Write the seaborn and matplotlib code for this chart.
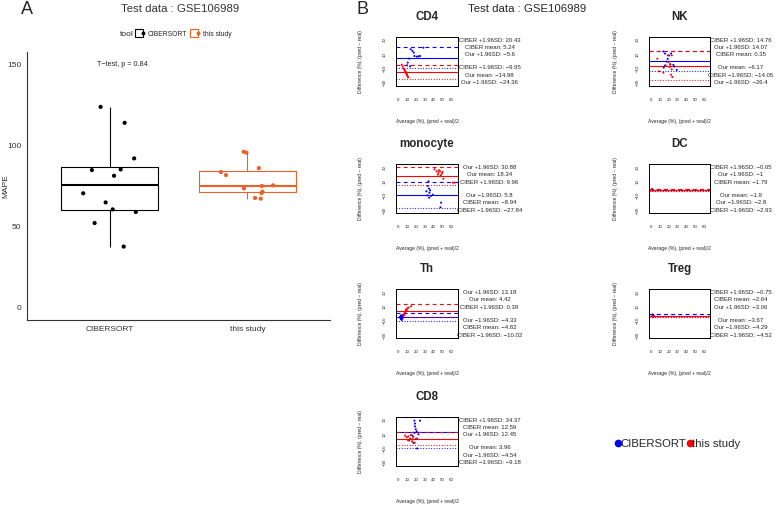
import matplotlib
matplotlib.use("Agg")
import matplotlib.pyplot as plt
from matplotlib.lines import Line2D
from matplotlib.legend_handler import HandlerTuple
import numpy as np
import pandas as pd
import seaborn as sns

# ---- panel A : MAPE per tool ----
tools = ["CIBERSORT", "this study"]
mape_cibersort = [123.7, 113.9, 92.0, 84.8, 85.2, 81.3, 70.5, 64.9, 60.6, 59.0, 52.2, 37.7]
jitter_cibersort = [-0.066, 0.109, 0.178, -0.129, 0.080, 0.032, -0.192, -0.029, 0.022, 0.190, -0.109, 0.102]
mape_study = [96.1, 95.5, 86.0, 83.6, 81.7, 75.4, 75.0, 73.5, 71.5, 70.7, 67.6, 67.2]
jitter_study = [-0.027, -0.007, 0.083, -0.192, -0.156, 0.187, 0.105, -0.025, 0.110, 0.102, 0.056, 0.097]
ttest_label = "T\u2212test, p = 0.84"
title = "Test data : GSE106989"

# ---- panel B : Bland-Altman per cell type ----
cell_types = ["CD4", "NK", "monocyte", "DC", "Th", "Treg", "CD8"]

ciber_avg = {
    "CD4": [14.3, 16.2, 17.7, 12.4, 10.9, 10.1, 13.5, 18.4, 21.0, 22.9, 24.7, 28.5],
    "NK": [13.6, 15.5, 20.1, 22.4, 18.6, 17.5, 15.5, 14.0, 25.1, 26.2, 29.0, 21.3],
    "monocyte": [34.2, 33.4, 34.9, 31.9, 35.3, 37.1, 39.0, 33.1, 34.9, 48.4, 47.7, 36.0],
    "DC": [0.6, 0.8, 0.9, 1.2, 0.8, 1.1, 1.0, 0.5, 1.3, 0.9, 1.0, 0.9],
    "Th": [3.0, 4.2, 4.9, 3.4, 2.3, 5.3, 6.0, 4.2, 2.7, 4.5, 3.8, 5.6],
    "Treg": [1.0, 1.4, 1.6, 1.8, 1.9, 2.0, 2.2, 2.3, 1.7, 1.5, 2.4, 2.0],
    "CD8": [18.4, 24.7, 19.1, 19.1, 19.9, 21.0, 18.4, 22.9, 16.2, 19.9, 17.3, 21.4],
}
ciber_diff = {
    "CD4": [17.0, 14.6, 12.2, 3.8, -1.8, -5.6, -7.0, 7.5, 6.6, 7.0, 7.5, 19.2],
    "NK": [13.8, 11.0, 8.2, 11.0, 3.5, -0.3, -5.9, -8.7, -4.9, -7.3, -11.9, -4.0],
    "monocyte": [10.3, 3.7, 0.0, -3.7, -5.7, -10.3, -8.5, -9.4, -12.7, -19.7, -26.2, -2.4],
    "DC": [-1.2, -1.5, -1.8, -2.4, -1.6, -2.1, -1.9, -1.0, -2.6, -1.7, -2.0, -1.7],
    "Th": [-3.1, -5.5, -6.9, -7.8, -4.5, -3.1, -1.7, -8.8, -6.5, -4.1, -2.2, -5.0],
    "Treg": [-1.2, -1.8, -2.2, -2.5, -2.8, -3.0, -3.3, -3.5, -2.6, -2.0, -3.8, -3.0],
    "CD8": [29.0, 29.0, 25.0, 21.0, 17.0, 14.0, 12.0, 10.0, 8.0, 3.0, -2.0, -10.0],
}
our_avg = {
    "CD4": [4.2, 5.3, 6.4, 7.2, 7.9, 8.7, 9.4, 10.1, 10.9, 8.2, 9.8, 11.3],
    "NK": [6.7, 8.6, 13.6, 16.3, 18.6, 23.2, 21.6, 23.2, 22.4, 23.9, 19.3, 20.9],
    "monocyte": [40.9, 43.5, 45.4, 47.3, 49.2, 48.0, 49.9, 44.7, 51.0, 61.5, 63.4, 46.1],
    "DC": [0.7, 0.8, 1.0, 1.3, 0.9, 1.1, 1.0, 0.8, 1.2, 0.9, 1.1, 0.9],
    "Th": [6.0, 7.2, 7.9, 8.7, 9.8, 9.0, 10.5, 11.7, 14.6, 7.2, 8.2, 6.4],
    "Treg": [1.7, 1.8, 1.9, 2.0, 1.8, 2.0, 1.7, 1.9, 1.9, 2.1, 1.8, 1.8],
    "CD8": [7.9, 9.8, 11.7, 13.5, 14.6, 16.2, 17.3, 12.4, 10.9, 21.4, 18.8, 15.7],
}
our_diff = {
    "CD4": [-4.7, -7.5, -10.3, -11.7, -13.6, -15.4, -17.4, -19.2, -21.1, -14.0, -18.0, -22.5],
    "NK": [3.7, -14.0, -16.0, -5.6, 8.5, 8.5, -4.7, -11.3, -18.8, -22.0, -0.9, -7.9],
    "monocyte": [27.2, 24.3, 22.4, 24.3, 21.0, 18.7, 23.4, 19.6, 14.0, 8.4, 8.4, 25.8],
    "DC": [-1.3, -1.6, -2.0, -2.5, -1.8, -2.2, -1.9, -1.5, -2.4, -1.7, -2.1, -1.8],
    "Th": [-3.4, -1.0, 1.4, 3.7, 4.6, 6.0, 7.5, 8.4, 10.3, 0.0, 2.3, -2.0],
    "Treg": [-3.3, -3.5, -3.7, -4.0, -3.6, -3.9, -3.4, -3.8, -3.7, -4.1, -3.5, -3.5],
    "CD8": [8.0, 6.0, 7.0, 4.0, 9.0, 3.0, 6.0, 1.0, 2.0, 4.0, -2.0, 0.0],
}
# mean, +1.96SD, -1.96SD
ciber_stats = {
    "CD4": [5.24, 20.43, -9.95],
    "NK": [0.35, 14.76, -14.05],
    "monocyte": [-8.94, 9.96, -27.84],
    "DC": [-1.79, -0.65, -2.93],
    "Th": [-4.82, 0.39, -10.02],
    "Treg": [-2.64, -0.75, -4.52],
    "CD8": [12.59, 34.37, -9.18],
}
our_stats = {
    "CD4": [-14.98, -5.6, -24.36],
    "NK": [-6.17, 14.07, -26.4],
    "monocyte": [18.34, 30.88, 5.8],
    "DC": [-1.9, -1.0, -2.8],
    "Th": [4.42, 13.18, -4.33],
    "Treg": [-3.67, -3.06, -4.29],
    "CD8": [3.96, 12.45, -4.54],
}

W, H = 778, 505
ORANGE = "#EE5F2A"


def fig_box(left, top, width, height):
    return [left / W, 1 - (top + height) / H, width / W, height / H]


def fmt(v):
    return f"{v:g}".replace("-", "\u2212")


def plot_mape(fig):
    df = pd.DataFrame({
        "tool": [tools[0]] * len(mape_cibersort) + [tools[1]] * len(mape_study),
        "MAPE": mape_cibersort + mape_study,
        "jitter": jitter_cibersort + jitter_study,
    })
    df["xpos"] = df["tool"].map({tools[0]: 0, tools[1]: 1}) + df["jitter"]
    pal = {tools[0]: "black", tools[1]: ORANGE}

    ax = fig.add_axes(fig_box(27, 52, 303, 268))
    sns.boxplot(data=df, x="tool", y="MAPE", hue="tool", palette=pal,
                fill=False, width=0.7, showcaps=False, showfliers=False,
                linewidth=0.8, medianprops=dict(linewidth=1.5),
                legend=False, ax=ax)
    sns.scatterplot(data=df, x="xpos", y="MAPE", hue="tool", palette=pal,
                    s=9, edgecolor="none", legend=False, ax=ax)
    ax.set_xlim(-0.6, 1.6)
    ax.set_ylim(-7.5, 157.5)
    ax.set_yticks([0, 50, 100, 150])
    ax.set_xticks([0, 1])
    ax.set_xticklabels(tools)
    ax.set_xlabel("")
    ax.set_ylabel("MAPE", fontsize=6)
    ax.yaxis.set_label_coords(-0.058, 0.5)
    sns.despine(ax=ax)
    for s in ["left", "bottom"]:
        ax.spines[s].set_linewidth(0.8)
        ax.spines[s].set_color("#333333")
    ax.tick_params(labelsize=6, length=2.5, width=0.6, pad=1.5, colors="#333333",
                   labelcolor="#333333")
    ax.text(0.91 - 1, 150, ttest_label, fontsize=5.2, ha="left", va="center")

    # legend on top
    fig.text(120 / W, 1 - 34 / H, "tool", fontsize=6, va="center", ha="left")
    handles = [Line2D([0], [0], marker="s", ls="", mfc="white", mec=c, ms=6, mew=0.8)
               for c in pal.values()]
    dots = [Line2D([0], [0], marker="o", ls="", color=c, ms=1.8) for c in pal.values()]
    fig.legend(handles=list(zip(handles, dots)), labels=tools, ncol=2,
               handler_map={tuple: HandlerTuple(ndivide=None, pad=0)},
               loc="center left", bbox_to_anchor=(134 / W, 1 - 34 / H),
               frameon=False, fontsize=4.9, handlelength=1.0,
               handletextpad=0.5, columnspacing=0.8, borderpad=0)


def plot_ba(fig, cell, rect):
    ax = fig.add_axes(rect)
    sns.scatterplot(x=ciber_avg[cell], y=ciber_diff[cell], color="blue", s=2.2,
                    edgecolor="none", ax=ax, zorder=3)
    sns.scatterplot(x=our_avg[cell], y=our_diff[cell], color="red", s=2.2,
                    edgecolor="none", ax=ax, zorder=3)
    for stats, col in [(ciber_stats[cell], "blue"), (our_stats[cell], "red")]:
        ax.axhline(stats[0], color=col, lw=0.8, ls="-")
        ax.axhline(stats[1], color=col, lw=0.8, ls=(0, (3.5, 3)))
        ax.axhline(stats[2], color=col, lw=0.8, ls=(0, (0.8, 1.6)))
    ax.set_xlim(-2.6, 67.6)
    ax.set_ylim(-34.6, 34.6)
    ax.set_xticks(np.arange(0, 61, 10))
    ax.set_yticks(np.arange(-30, 31, 10))
    ax.set_yticklabels([fmt(v) if v in (-30, -10, 10, 30) else "" for v in range(-30, 31, 10)],
                       rotation=90, va="center")
    ax.tick_params(axis="x", labelsize=3.2, length=3.6, width=0.6, pad=5)
    ax.tick_params(axis="y", labelsize=3.2, length=3.6, width=0.6, pad=3)
    for s in ax.spines.values():
        s.set_linewidth(0.7)
        s.set_color("black")
    ax.set_xlabel("Average (%), (pred + real)/2", fontsize=3.6)
    ax.xaxis.set_label_coords(0.5, -0.66)
    ax.set_ylabel("Difference (%), (pred \u2013 real)", fontsize=3.6)
    ax.yaxis.set_label_coords(-0.52, 0.5)
    ax.text(0.5, 1.4, cell, transform=ax.transAxes, fontsize=8.3, weight="bold",
            ha="center", va="center")

    entries = [("CIBER mean", ciber_stats[cell][0]), ("CIBER +1.96SD", ciber_stats[cell][1]),
               ("CIBER \u22121.96SD", ciber_stats[cell][2]), ("Our mean", our_stats[cell][0]),
               ("Our +1.96SD", our_stats[cell][1]), ("Our \u22121.96SD", our_stats[cell][2])]
    entries.sort(key=lambda e: -e[1])
    ypos = [0.933, 0.777, 0.629, 0.371, 0.209, 0.061]
    for (lab, v), yy in zip(entries, ypos):
        ax.text(1.5, yy, f"{lab}: {fmt(v)}", transform=ax.transAxes, fontsize=4.3,
                ha="center", va="center", clip_on=False)


def main():
    sns.set_theme(style="white")
    plt.rcParams["font.family"] = ["Liberation Sans", "DejaVu Sans"]
    plt.rcParams["axes.unicode_minus"] = True

    fig = plt.figure(figsize=(W / 100, H / 100), dpi=100)

    fig.text(27 / W, 1 - 10 / H, "A", fontsize=13, ha="center", va="center")
    fig.text(363 / W, 1 - 10 / H, "B", fontsize=13, ha="center", va="center")
    fig.text(180 / W, 1 - 8.5 / H, title, fontsize=8.2, ha="center", va="center",
             color="#333333")
    fig.text(527 / W, 1 - 8.5 / H, title, fontsize=8.2, ha="center", va="center")

    plot_mape(fig)

    col_left = [395.7, 649.3]
    col_width = [62.5, 61.0]
    row_top = [36.7, 164.0, 289.0, 416.7]
    for i, cell in enumerate(cell_types):
        r, c = divmod(i, 2)
        plot_ba(fig, cell, fig_box(col_left[c], row_top[r], col_width[c], 49.3))

    handles = [Line2D([0], [0], marker="o", ls="", color=c, ms=4.5) for c in ["blue", "red"]]
    fig.legend(handles=handles, labels=["CIBERSORT", "this study"], ncol=2,
               loc="center", bbox_to_anchor=(678 / W, 1 - 444 / H), frameon=False,
               fontsize=8.2, handlelength=0.4, handletextpad=0.05, columnspacing=0.1,
               borderpad=0)

    fig.savefig("out.png", dpi=100)


if __name__ == "__main__":
    main()
